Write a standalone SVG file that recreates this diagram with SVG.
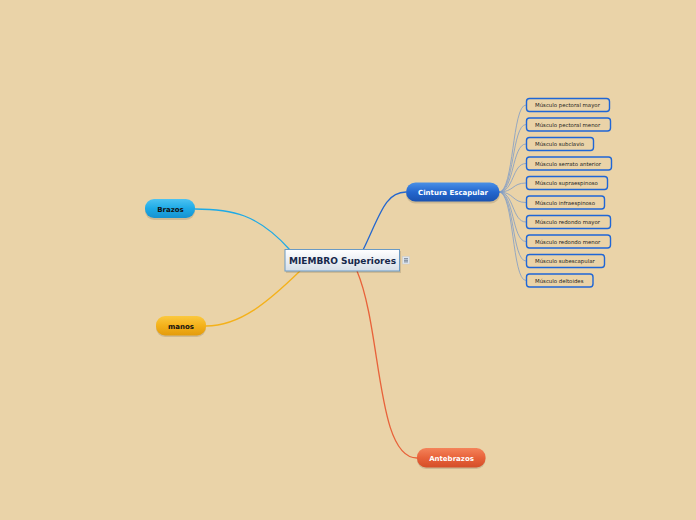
<svg xmlns="http://www.w3.org/2000/svg" width="696" height="520" viewBox="0 0 696 520">
<defs>
<linearGradient id="gBlue" x1="0" y1="0" x2="0" y2="1"><stop offset="0" stop-color="#4a90e6"/><stop offset="0.5" stop-color="#2467cf"/><stop offset="1" stop-color="#1a52b0"/></linearGradient>
<linearGradient id="gLight" x1="0" y1="0" x2="0" y2="1"><stop offset="0" stop-color="#4cc3f2"/><stop offset="0.5" stop-color="#1eaae6"/><stop offset="1" stop-color="#1592d0"/></linearGradient>
<linearGradient id="gYellow" x1="0" y1="0" x2="0" y2="1"><stop offset="0" stop-color="#fbc940"/><stop offset="0.5" stop-color="#f4b11a"/><stop offset="1" stop-color="#e39b0c"/></linearGradient>
<linearGradient id="gOrange" x1="0" y1="0" x2="0" y2="1"><stop offset="0" stop-color="#f4835a"/><stop offset="0.5" stop-color="#e8623a"/><stop offset="1" stop-color="#d44e28"/></linearGradient>
<linearGradient id="gCenter" x1="0" y1="0" x2="0" y2="1"><stop offset="0" stop-color="#ffffff"/><stop offset="1" stop-color="#d6dfe8"/></linearGradient>
</defs>
<style>
.leaf rect{fill:#ead3a8;stroke:#1f66d6;stroke-width:1.4}
.leaf text{font-family:"DejaVu Sans",sans-serif;font-size:5.4px;fill:#222}
.lbl{font-family:"DejaVu Sans",sans-serif;font-weight:bold;font-size:7px}
.sub{fill:none;stroke:#7f9cc6;stroke-width:0.8}
.shadow{fill:#000;opacity:0.12}
</style>
<rect width="696" height="520" fill="#ead3a8"/>
<g id="connectors">
<path d="M363,250 C380,215 385,192 406,192" fill="none" stroke="#2467cf" stroke-width="1.3"/>
<path d="M290,250 C258,214 232,209 195,209" fill="none" stroke="#1eaae6" stroke-width="1.3"/>
<path d="M300,271 C268,302 240,326 206,326" fill="none" stroke="#f4b11a" stroke-width="1.3"/>
<path d="M357,271 C382,330 376,458 417,458" fill="none" stroke="#e8623a" stroke-width="1.3"/>
<path class="sub" d="M499,192 C514,192 512,105 526,105"/>
<path class="sub" d="M499,192 C514,192 512,124.5 526,124.5"/>
<path class="sub" d="M499,192 C514,192 512,144 526,144"/>
<path class="sub" d="M499,192 C514,192 512,163.5 526,163.5"/>
<path class="sub" d="M499,192 C514,192 512,183 526,183"/>
<path class="sub" d="M499,192 C514,192 512,202.5 526,202.5"/>
<path class="sub" d="M499,192 C514,192 512,222 526,222"/>
<path class="sub" d="M499,192 C514,192 512,241.5 526,241.5"/>
<path class="sub" d="M499,192 C514,192 512,261 526,261"/>
<path class="sub" d="M499,192 C514,192 512,280.5 526,280.5"/>
</g>
<g id="center">
<rect x="286" y="251" width="115" height="22" class="shadow"/>
<rect x="285" y="249.5" width="114.5" height="21.5" fill="url(#gCenter)" stroke="#6a9ac4" stroke-width="1"/>
<text x="342.5" y="264" text-anchor="middle" font-family="DejaVu Sans,sans-serif" font-weight="bold" font-size="9px" fill="#16284a" textLength="107" lengthAdjust="spacingAndGlyphs">MIEMBRO Superiores</text>
<rect x="402.5" y="256.5" width="7" height="7.5" fill="#dfe6ee" stroke="#c0c8d0" stroke-width="0.4"/>
<path d="M404,258.7h4M404,260.3h4M404,261.9h4" stroke="#4a5a70" stroke-width="0.7"/>
</g>
<g id="cintura">
<rect x="406" y="184.5" width="94" height="19" rx="9.5" class="shadow"/>
<rect x="406" y="182.5" width="93.5" height="19" rx="9.5" fill="url(#gBlue)"/>
<text x="453" y="194.5" text-anchor="middle" class="lbl" fill="#fff">Cintura Escapular</text>
</g>
<g id="brazos">
<rect x="145" y="201" width="50" height="19" rx="9" class="shadow"/>
<rect x="145" y="199" width="50" height="19" rx="9" fill="url(#gLight)"/>
<text x="170.5" y="211.5" text-anchor="middle" class="lbl" fill="#111">Brazos</text>
</g>
<g id="manos">
<rect x="156" y="318" width="50" height="19" rx="9" class="shadow"/>
<rect x="156" y="316" width="50" height="19.5" rx="9" fill="url(#gYellow)"/>
<text x="181" y="328.5" text-anchor="middle" class="lbl" fill="#111">manos</text>
</g>
<g id="antebrazos">
<rect x="417" y="450" width="68.5" height="19" rx="9" class="shadow"/>
<rect x="417" y="448" width="68.5" height="19.5" rx="9" fill="url(#gOrange)"/>
<text x="451.5" y="460.7" text-anchor="middle" class="lbl" fill="#fff">Antebrazos</text>
</g>
<g id="leaf1" class="leaf"><rect x="526.5" y="98.5" width="83" height="13" rx="3"/><text x="535" y="107">Músculo pectoral mayor</text></g>
<g id="leaf2" class="leaf"><rect x="526.5" y="118" width="84" height="13" rx="3"/><text x="535" y="126.5">Músculo pectoral menor</text></g>
<g id="leaf3" class="leaf"><rect x="526.5" y="137.5" width="67" height="13" rx="3"/><text x="535" y="146">Músculo subclavio</text></g>
<g id="leaf4" class="leaf"><rect x="526.5" y="157" width="85" height="13" rx="3"/><text x="535" y="165.5">Músculo serrato anterior</text></g>
<g id="leaf5" class="leaf"><rect x="526.5" y="176.5" width="81" height="13" rx="3"/><text x="535" y="185">Músculo supraespinoso</text></g>
<g id="leaf6" class="leaf"><rect x="526.5" y="196" width="78" height="13" rx="3"/><text x="535" y="204.5">Músculo infraespinoso</text></g>
<g id="leaf7" class="leaf"><rect x="526.5" y="215.5" width="84" height="13" rx="3"/><text x="535" y="224">Músculo redondo mayor</text></g>
<g id="leaf8" class="leaf"><rect x="526.5" y="235" width="84" height="13" rx="3"/><text x="535" y="243.5">Músculo redondo menor</text></g>
<g id="leaf9" class="leaf"><rect x="526.5" y="254.5" width="78" height="13" rx="3"/><text x="535" y="263">Músculo subescapular</text></g>
<g id="leaf10" class="leaf"><rect x="526.5" y="274" width="66.5" height="13" rx="3"/><text x="535" y="282.5">Músculo deltoides</text></g>
</svg>
